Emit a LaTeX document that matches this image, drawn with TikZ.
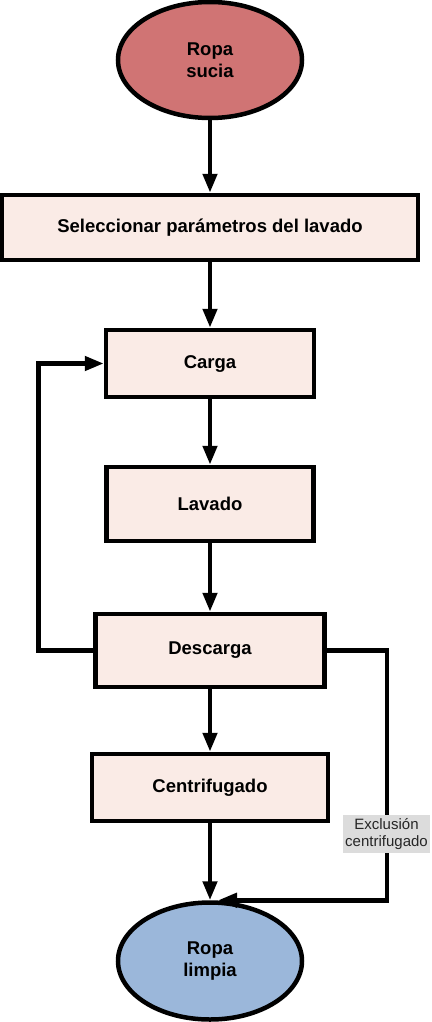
\documentclass[tikz,border=0pt]{standalone}
\usepackage{fontspec}
\setmainfont{Liberation Sans}
\usetikzlibrary{shapes.geometric,arrows.meta}

\definecolor{rojoropa}{RGB}{208,116,116}
\definecolor{azulropa}{RGB}{155,183,218}
\definecolor{rosapaso}{RGB}{250,235,230}
\definecolor{grisnota}{RGB}{220,220,220}

\begin{document}
\begin{tikzpicture}[x=1pt,y=-1pt,
    linea/.style={line width=4.5pt},
    flecha/.style={linea, -{Triangle[length=19pt,width=14pt]}},
    extremo/.style={ellipse, draw, linea, minimum width=184pt, align=center,
        font=\fontsize{18.5}{22}\selectfont\bfseries},
    paso/.style={rectangle, draw, linea, fill=rosapaso, inner sep=0pt,
        font=\fontsize{18.5}{22}\selectfont\bfseries},
    nota/.style={fill=grisnota, inner sep=0pt, minimum width=87pt, minimum height=38pt,
        align=center, text=black!85, font=\fontsize{15}{17}\selectfont}]
    \useasboundingbox (0,0) rectangle (431,1022);

    \node [extremo, fill=rojoropa, minimum height=116pt] (sucia) at (210,60) {Ropa\\sucia};
    \node [paso, minimum width=416pt, minimum height=65pt] (selec) at (210,227.5) {Seleccionar parámetros del lavado};
    \node [paso, minimum width=208pt, minimum height=67pt] (carga) at (210,363.5) {Carga};
    \node [paso, minimum width=207pt, minimum height=74pt] (lavado) at (210,504) {Lavado};
    \node [paso, minimum width=229pt, minimum height=73pt] (descarga) at (210,650.5) {Descarga};
    \node [paso, minimum width=236pt, minimum height=67pt] (centrif) at (210,787.5) {Centrifugado};
    \node [extremo, fill=azulropa, minimum height=117pt] (limpia) at (210,961) {Ropa\\limpia};

    \draw [flecha] (sucia) -- (selec);
    \draw [flecha] (selec) -- (carga);
    \draw [flecha] (carga) -- (lavado);
    \draw [flecha] (lavado) -- (descarga);
    \draw [flecha] (descarga) -- (centrif);
    \draw [flecha] (centrif) -- (limpia);

    \draw [flecha] (descarga.west) -- ++(-55,0) |- (carga.west);
    \draw [flecha] (descarga.east) -| ([xshift=177pt]limpia.north) -- ([xshift=8pt]limpia.north);

    \node [nota] (exclusion) at (386.5,834) {Exclusión\\centrifugado};
\end{tikzpicture}
\end{document}
